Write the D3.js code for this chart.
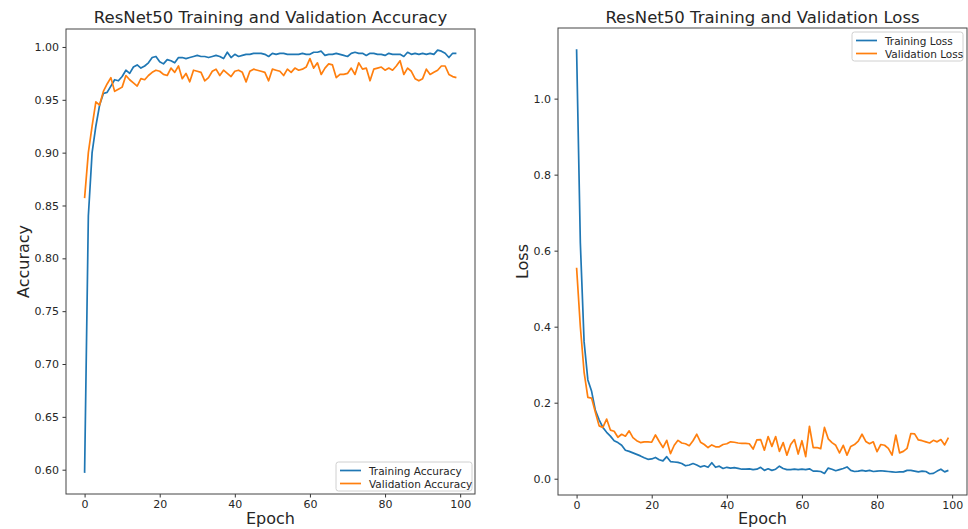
<!DOCTYPE html>
<html>
<head>
<meta charset="utf-8">
<script src="https://cdn.jsdelivr.net/npm/d3@7"></script>
<style>
    body { margin: 0; background: #fff; }
    svg text { font-family: "DejaVu Sans", sans-serif; fill: #262626; }
</style>
</head>
<body>
<svg id="chart" width="968" height="529"></svg>
<script>
// epochs 0..99
let epochs = d3.range(100);

let trainAcc = [
    0.597, 0.840, 0.900, 0.925, 0.945, 0.956, 0.957, 0.963, 0.969, 0.968,
    0.972, 0.978, 0.975, 0.981, 0.983, 0.980, 0.982, 0.985, 0.990, 0.991,
    0.986, 0.984, 0.988, 0.987, 0.985, 0.990, 0.990, 0.989, 0.990, 0.991,
    0.992, 0.991, 0.991, 0.990, 0.991, 0.992, 0.991, 0.989, 0.995, 0.990,
    0.993, 0.991, 0.992, 0.993, 0.993, 0.994, 0.994, 0.994, 0.993, 0.991,
    0.994, 0.993, 0.994, 0.994, 0.993, 0.993, 0.993, 0.993, 0.994, 0.993,
    0.993, 0.995, 0.995, 0.996, 0.992, 0.993, 0.993, 0.994, 0.993, 0.992,
    0.991, 0.994, 0.995, 0.994, 0.994, 0.992, 0.994, 0.994, 0.993, 0.993,
    0.992, 0.994, 0.993, 0.993, 0.993, 0.991, 0.995, 0.993, 0.994, 0.993,
    0.994, 0.993, 0.994, 0.993, 0.997, 0.996, 0.994, 0.990, 0.994, 0.994
];

let valAcc = [
    0.857, 0.900, 0.925, 0.948, 0.945, 0.958, 0.965, 0.971, 0.958, 0.960,
    0.962, 0.973, 0.969, 0.966, 0.963, 0.970, 0.969, 0.973, 0.976, 0.978,
    0.977, 0.974, 0.973, 0.980, 0.976, 0.982, 0.970, 0.975, 0.967, 0.978,
    0.977, 0.976, 0.968, 0.971, 0.977, 0.979, 0.973, 0.978, 0.975, 0.972,
    0.977, 0.978, 0.976, 0.967, 0.977, 0.979, 0.978, 0.977, 0.976, 0.968,
    0.979, 0.978, 0.977, 0.973, 0.979, 0.976, 0.980, 0.978, 0.979, 0.981,
    0.989, 0.980, 0.985, 0.974, 0.980, 0.984, 0.983, 0.971, 0.974, 0.974,
    0.975, 0.980, 0.974, 0.985, 0.979, 0.980, 0.968, 0.979, 0.980, 0.981,
    0.978, 0.980, 0.978, 0.982, 0.987, 0.974, 0.980, 0.977, 0.970, 0.968,
    0.970, 0.979, 0.974, 0.976, 0.978, 0.982, 0.982, 0.974, 0.972, 0.971
];

let trainLoss = [
    1.130, 0.620, 0.360, 0.260, 0.230, 0.180, 0.155, 0.135, 0.122, 0.112,
    0.100, 0.095, 0.088, 0.075, 0.072, 0.068, 0.064, 0.060, 0.055, 0.051,
    0.052, 0.056, 0.050, 0.047, 0.058, 0.045, 0.044, 0.043, 0.040, 0.034,
    0.036, 0.040, 0.036, 0.031, 0.034, 0.030, 0.042, 0.030, 0.033, 0.027,
    0.030, 0.028, 0.029, 0.027, 0.025, 0.025, 0.026, 0.024, 0.025, 0.030,
    0.022, 0.026, 0.022, 0.025, 0.033, 0.027, 0.024, 0.024, 0.025, 0.024,
    0.025, 0.024, 0.026, 0.020, 0.020, 0.019, 0.014, 0.028, 0.025, 0.021,
    0.024, 0.027, 0.031, 0.022, 0.019, 0.020, 0.022, 0.020, 0.022, 0.019,
    0.020, 0.021, 0.020, 0.019, 0.018, 0.017, 0.018, 0.018, 0.022, 0.022,
    0.020, 0.018, 0.020, 0.019, 0.013, 0.014, 0.020, 0.025, 0.018, 0.022
];

let valLoss = [
    0.555, 0.400, 0.280, 0.214, 0.212, 0.175, 0.139, 0.135, 0.157, 0.128,
    0.125, 0.109, 0.117, 0.112, 0.126, 0.108, 0.100, 0.095, 0.097, 0.097,
    0.096, 0.115, 0.098, 0.082, 0.101, 0.066, 0.088, 0.101, 0.094, 0.092,
    0.087, 0.100, 0.117, 0.096, 0.090, 0.082, 0.089, 0.084, 0.084, 0.090,
    0.092, 0.097, 0.096, 0.094, 0.093, 0.093, 0.092, 0.078, 0.102, 0.103,
    0.075, 0.111, 0.085, 0.111, 0.072, 0.095, 0.062, 0.090, 0.103, 0.065,
    0.100, 0.058, 0.138, 0.082, 0.082, 0.079, 0.135, 0.105, 0.095, 0.088,
    0.068, 0.088, 0.062, 0.085, 0.090, 0.099, 0.117, 0.098, 0.092, 0.097,
    0.071, 0.090, 0.088, 0.080, 0.062, 0.115, 0.068, 0.072, 0.080, 0.119,
    0.118, 0.102, 0.100, 0.097, 0.094, 0.101, 0.097, 0.103, 0.089, 0.108
];

let xTicks = [0, 20, 40, 60, 80, 100];
let accTicks = [0.60, 0.65, 0.70, 0.75, 0.80, 0.85, 0.90, 0.95, 1.00];
let lossTicks = [0.0, 0.2, 0.4, 0.6, 0.8, 1.0];

let blue = '#1f77b4';
let orange = '#ff7f0e';

let svg = d3.select('#chart');

// matplotlib-like 5% margins
function padded(min, max) {
    let m = (max - min) * 0.05;
    return [min - m, max + m];
}

function drawPanel(opts) {
    let box = opts.box;
    let g = svg.append('g');

    let x = d3.scaleLinear()
        .domain(padded(0, 99))
        .range([box.left, box.right]);

    let all = opts.series[0].values.concat(opts.series[1].values);
    let y = d3.scaleLinear()
        .domain(padded(d3.min(all), d3.max(all)))
        .range([box.bottom, box.top]);

    // x axis
    let xAxis = g.append('g')
        .attr('transform', `translate(0,${box.bottom})`)
        .call(d3.axisBottom(x).tickValues(xTicks).tickSize(3.5).tickPadding(3).tickFormat(d3.format('d')));
    xAxis.select('.domain').remove();
    xAxis.selectAll('text').style('font-size', '11px');

    // y axis
    let yAxis = g.append('g')
        .attr('transform', `translate(${box.left},0)`)
        .call(d3.axisLeft(y).tickValues(opts.yTicks).tickSize(3.5).tickPadding(3.5).tickFormat(opts.yFormat));
    yAxis.select('.domain').remove();
    yAxis.selectAll('text').style('font-size', '11px');
    g.selectAll('.tick line').attr('stroke', '#333');

    // lines
    let line = d3.line()
        .x(function (d, i) { return x(epochs[i]); })
        .y(function (d) { return y(d); });

    opts.series.forEach(function (s) {
        g.append('path')
            .datum(s.values)
            .attr('fill', 'none')
            .attr('stroke', s.color)
            .attr('stroke-width', 1.7)
            .attr('stroke-linejoin', 'round')
            .attr('d', line);
    });

    // frame
    g.append('rect')
        .attr('x', box.left)
        .attr('y', box.top)
        .attr('width', box.right - box.left)
        .attr('height', box.bottom - box.top)
        .attr('fill', 'none')
        .attr('stroke', '#444')
        .attr('stroke-width', 1);

    // title
    g.append('text')
        .attr('x', (box.left + box.right) / 2)
        .attr('y', 23)
        .attr('text-anchor', 'middle')
        .style('font-size', '16.5px')
        .text(opts.title);

    // axis labels
    g.append('text')
        .attr('x', (box.left + box.right) / 2)
        .attr('y', 524)
        .attr('text-anchor', 'middle')
        .style('font-size', '16px')
        .text('Epoch');

    g.append('text')
        .attr('transform', `translate(${opts.yLabelX},${(box.top + box.bottom) / 2}) rotate(-90)`)
        .attr('text-anchor', 'middle')
        .style('font-size', '16px')
        .text(opts.yLabel);

    // legend
    let lg = opts.legend;
    let legend = g.append('g');
    legend.append('rect')
        .attr('x', lg.x)
        .attr('y', lg.y)
        .attr('width', lg.w)
        .attr('height', 29)
        .attr('rx', 2.5)
        .attr('fill', '#fff')
        .attr('fill-opacity', 0.8)
        .attr('stroke', '#d0d0d0');
    opts.series.forEach(function (s, i) {
        let yy = lg.y + 8.5 + i * 13;
        legend.append('line')
            .attr('x1', lg.x + 4)
            .attr('x2', lg.x + 25)
            .attr('y1', yy)
            .attr('y2', yy)
            .attr('stroke', s.color)
            .attr('stroke-width', 1.7);
        legend.append('text')
            .attr('x', lg.x + 33)
            .attr('y', yy + 4)
            .style('font-size', '10.5px')
            .text(s.name);
    });
}

drawPanel({
    box: {left: 66, right: 475, top: 29, bottom: 494},
    title: 'ResNet50 Training and Validation Accuracy',
    yLabel: 'Accuracy',
    yLabelX: 29,
    yTicks: accTicks,
    yFormat: d3.format('.2f'),
    series: [
        {name: 'Training Accuracy', values: trainAcc, color: blue},
        {name: 'Validation Accuracy', values: valAcc, color: orange}
    ],
    legend: {x: 336, y: 462, w: 136}
});

drawPanel({
    box: {left: 558, right: 967, top: 28, bottom: 495},
    title: 'ResNet50 Training and Validation Loss',
    yLabel: 'Loss',
    yLabelX: 528,
    yTicks: lossTicks,
    yFormat: d3.format('.1f'),
    series: [
        {name: 'Training Loss', values: trainLoss, color: blue},
        {name: 'Validation Loss', values: valLoss, color: orange}
    ],
    legend: {x: 852, y: 32, w: 111}
});
</script>
</body>
</html>
